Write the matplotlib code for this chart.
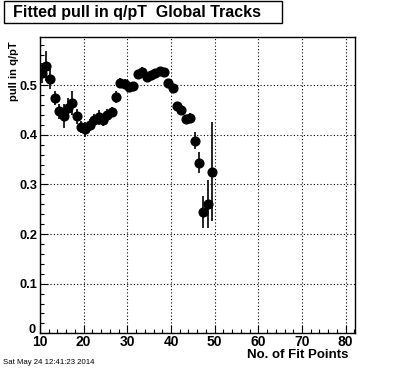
import numpy as np
import matplotlib
matplotlib.use("Agg")
import matplotlib.pyplot as plt
from matplotlib.patches import Rectangle
from matplotlib.ticker import MultipleLocator
from matplotlib.transforms import ScaledTranslation

# fitted pull in q/pT vs number of fit points
fit_points = [10.4, 11.4, 12.4, 13.4, 14.4, 15.4, 16.4, 17.4, 18.4, 19.4,
              20.4, 21.4, 22.4, 23.4, 24.4, 25.4, 26.4, 27.4, 28.4, 29.4,
              30.4, 31.4, 32.4, 33.4, 34.4, 35.4, 36.4, 37.4, 38.4, 39.4,
              40.4, 41.4, 42.4, 43.4, 44.4, 45.4, 46.4, 47.4, 48.4, 49.4]
pull = [0.525, 0.539, 0.512, 0.474, 0.447, 0.438, 0.454, 0.464, 0.437, 0.415,
        0.411, 0.420, 0.429, 0.435, 0.430, 0.440, 0.446, 0.477, 0.505, 0.503,
        0.497, 0.499, 0.523, 0.527, 0.517, 0.521, 0.525, 0.529, 0.527, 0.505,
        0.494, 0.458, 0.449, 0.431, 0.433, 0.388, 0.344, 0.244, 0.260, 0.326]
pull_err = [0.020, 0.030, 0.020, 0.015, 0.015, 0.025, 0.020, 0.025, 0.015, 0.012,
            0.015, 0.012, 0.012, 0.015, 0.012, 0.012, 0.010, 0.012, 0.010, 0.010,
            0.008, 0.008, 0.008, 0.010, 0.008, 0.006, 0.006, 0.006, 0.006, 0.006,
            0.006, 0.005, 0.005, 0.005, 0.010, 0.017, 0.022, 0.032, 0.048, 0.099]

y_ticks = [0, 0.1, 0.2, 0.3, 0.4, 0.5]
y_labels = ["0", "0.1", "0.2", "0.3", "0.4", "0.5"]
x_ticks = [10, 20, 30, 40, 50, 60, 70, 80]

font = "Liberation Sans"
W, H = 396, 372

fig = plt.figure(figsize=(W / 100, H / 100), dpi=100)
ax = fig.add_axes([40 / W, 1 - 333.3 / H, 315.3 / W, 296.3 / H])

ax.errorbar(fit_points, pull, yerr=pull_err, fmt="o", color="black",
            markersize=6.3, elinewidth=1.2, capsize=0, zorder=3)

ax.set_xlim(10, 82.2)
ax.set_ylim(0, 0.597)
ax.set_xticks(x_ticks)
ax.set_yticks(y_ticks)
ax.set_yticklabels(y_labels)
ax.xaxis.set_minor_locator(MultipleLocator(2))
ax.yaxis.set_minor_locator(MultipleLocator(0.02))
ax.tick_params(which="both", direction="in", top=False, right=False, width=0.8)
ax.tick_params(which="major", length=6)
ax.tick_params(which="minor", length=3)
ax.tick_params(axis="x", pad=1.5)
ax.tick_params(axis="y", pad=2)
for lab in ax.get_xticklabels():
    lab.set_fontfamily(font); lab.set_fontweight("bold"); lab.set_fontsize(10)
for lab in ax.get_yticklabels():
    lab.set_fontfamily(font); lab.set_fontweight("bold"); lab.set_fontsize(9.3)
# nudge the y "0" up/left a little so it clears the x "10"
zero = ax.get_yticklabels()[0]
zero.set_transform(zero.get_transform() + ScaledTranslation(-0.015, 0.05, fig.dpi_scale_trans))
ax.grid(True, which="major", color="black", linestyle=(0, (1, 2)), linewidth=0.8)
for s in ax.spines.values():
    s.set_linewidth(1.0)

fig.text(348 / W, 1 - 355 / H, "No. of Fit Points", ha="right", va="center",
         fontfamily=font, fontweight="bold", fontsize=9.5)
fig.text(14 / W, 1 - 41 / H, "pull in q/pT", ha="center", va="top", rotation=90,
         fontfamily=font, fontweight="bold", fontsize=8)
fig.text(3 / W, 1 - 363 / H, "Sat May 24 12:41:23 2014", ha="left", va="center",
         fontfamily=font, fontsize=5.6)

# title box
fig.patches.append(Rectangle((3.5 / W, 1 - 22.7 / H), 278 / W, 21.7 / H,
                             transform=fig.transFigure, facecolor="white",
                             edgecolor="black", linewidth=1.0))
fig.text(13 / W, 1 - 12 / H, "Fitted pull in q/pT  Global Tracks", ha="left",
         va="center", fontfamily=font, fontweight="bold", fontsize=11.5)

fig.savefig("out.png", dpi=100)
